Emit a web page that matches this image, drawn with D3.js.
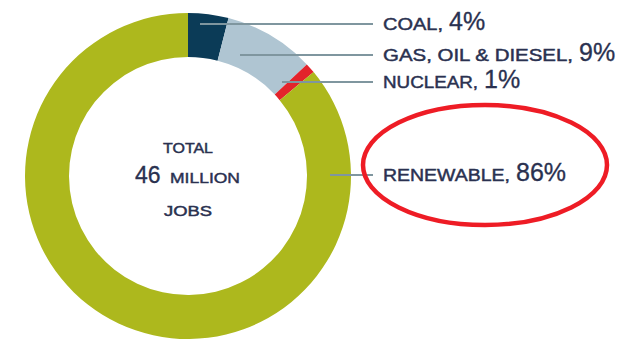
<!DOCTYPE html>
<html>
<head>
<meta charset="utf-8">
<script src="https://cdn.jsdelivr.net/npm/d3@7"></script>
<style>
  html, body { margin: 0; padding: 0; background: #fff; }
  svg { display: block; font-family: "Liberation Sans", Arial, sans-serif; }
  svg text { stroke: #2a3150; stroke-width: 0.45px; }
</style>
</head>
<body>
<div id="chart"></div>
<script>
// data
const categories = ['COAL', 'GAS, OIL & DIESEL', 'NUCLEAR', 'RENEWABLE'];
const shares = [4, 9, 1, 86];
const sliceColors = ['#0b3b57', '#afc5d2', '#e3232b', '#adb81d'];
const centerLines = ['TOTAL', '46', 'MILLION', 'JOBS'];

const width = 633,
  height = 339,
  cx = 188,
  cy = 176,
  outerR = 163,
  innerR = 119;

// annotation layout
const labelX = 383;
const labelBase = [30, 61, 88, 181];
const leaderDx = [12, 52, 94, 142];
const nameWidth = [60, 190, 95, 127];
const textColor = '#2a3150';
const lineColor = '#7f969f';

const svg = d3.select('#chart').append('svg')
  .attr('width', width)
  .attr('height', height);

const rows = categories.map((c, i) => ({ name: c, value: shares[i], i }));

const pie = d3.pie()
  .sort(null)
  .value(d => d.value);

const arc = d3.arc()
  .innerRadius(innerR)
  .outerRadius(outerR);

const ring = svg.append('g')
  .attr('transform', `translate(${cx},${cy})`);

ring.selectAll('path')
  .data(pie(rows))
  .enter().append('path')
  .attr('d', arc)
  .attr('fill', d => sliceColors[d.data.i]);

// leader lines
svg.selectAll('.leader')
  .data(rows)
  .enter().append('line')
  .attr('class', 'leader')
  .attr('x1', d => cx + leaderDx[d.i])
  .attr('x2', labelX - 10)
  .attr('y1', d => labelBase[d.i] - 6)
  .attr('y2', d => labelBase[d.i] - 6)
  .attr('stroke', lineColor)
  .attr('stroke-width', 2);

// labels: small caps name + big percentage
const labels = svg.selectAll('.label')
  .data(rows)
  .enter().append('g')
  .attr('class', 'label');

labels.append('text')
  .attr('x', labelX)
  .attr('y', d => labelBase[d.i])
  .attr('font-size', 16.5)
  .attr('fill', textColor)
  .attr('textLength', d => nameWidth[d.i])
  .attr('lengthAdjust', 'spacingAndGlyphs')
  .text(d => d.name + ',');

labels.append('text')
  .attr('x', d => labelX + nameWidth[d.i] + 6)
  .attr('y', d => labelBase[d.i])
  .attr('font-size', 25)
  .attr('fill', textColor)
  .style('stroke-width', '0.3px')
  .text(d => d.value + '%');

// centre text
svg.append('text')
  .attr('x', cx - 25).attr('y', 153)
  .attr('font-size', 14)
  .attr('fill', textColor)
  .attr('textLength', 50)
  .attr('lengthAdjust', 'spacingAndGlyphs')
  .text(centerLines[0]);

svg.append('text')
  .attr('x', cx - 53).attr('y', 183)
  .attr('font-size', 23)
  .attr('fill', textColor)
  .style('stroke-width', '0.3px')
  .text(centerLines[1]);

svg.append('text')
  .attr('x', cx - 18).attr('y', 183)
  .attr('font-size', 15)
  .attr('fill', textColor)
  .attr('textLength', 70)
  .attr('lengthAdjust', 'spacingAndGlyphs')
  .text(centerLines[2]);

svg.append('text')
  .attr('x', cx - 24).attr('y', 216)
  .attr('font-size', 14)
  .attr('fill', textColor)
  .attr('textLength', 48)
  .attr('lengthAdjust', 'spacingAndGlyphs')
  .text(centerLines[3]);

// red highlight round the renewable label
svg.append('ellipse')
  .attr('cx', 485)
  .attr('cy', labelBase[3] - 16)
  .attr('rx', 122)
  .attr('ry', 60)
  .attr('fill', 'none')
  .attr('stroke', '#ee1c25')
  .attr('stroke-width', 4.5);
</script>
</body>
</html>
